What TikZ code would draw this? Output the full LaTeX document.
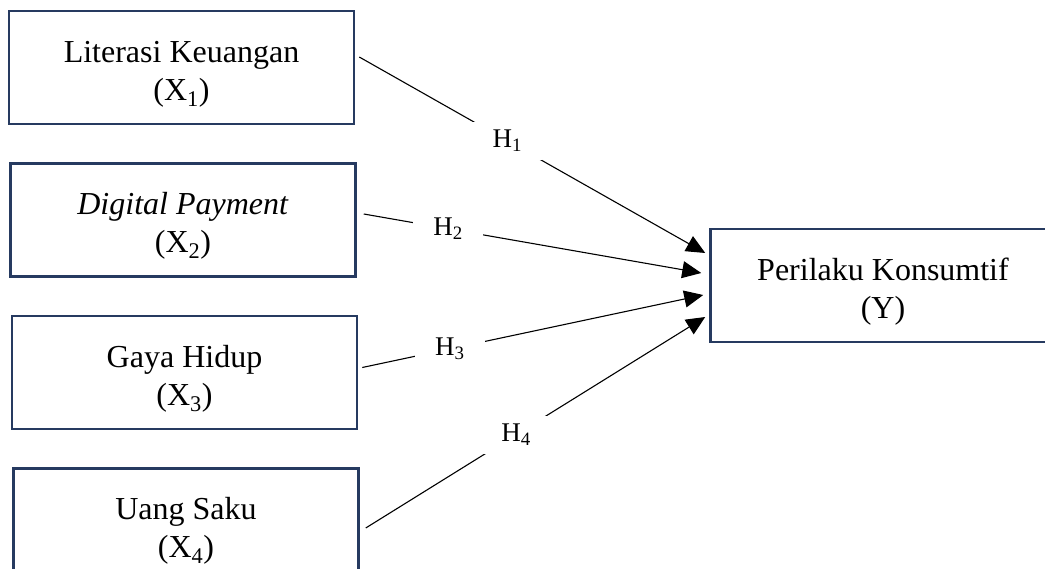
\documentclass[tikz,border=0pt]{standalone}
\usepackage{fontspec}
\setmainfont{Liberation Serif}
\usetikzlibrary{arrows.meta,positioning}
\definecolor{boxblue}{RGB}{38,58,96}
\newcommand{\boxstrut}{\rule{0pt}{34pt}}

\begin{document}
\begin{tikzpicture}[x=1pt,y=-1pt,node distance=37pt,>={Triangle[length=19pt,width=17pt]}]
  \tikzstyle{var}=[draw=boxblue,line width=2.5pt,minimum width=345pt,minimum height=113pt,inner sep=0pt,align=center,font=\fontsize{32}{38}\selectfont]
  \tikzstyle{hyp}=[fill=white,minimum width=70pt,minimum height=38pt,inner sep=0pt,font=\fontsize{27}{30}\selectfont]
  \useasboundingbox (0,0) rectangle (1045,569);
  \clip (0,0) rectangle (1045,569);

  \node[var] (lk) at (181.5,67.5) {\boxstrut Literasi Keuangan\\(X\textsubscript{1})};
  \node[var] (dp) [below=of lk,xshift=1.5pt] {\boxstrut\textit{Digital Payment}\\(X\textsubscript{2})};
  \node[var] (gh) [below=of dp,xshift=1.5pt] {\boxstrut Gaya Hidup\\(X\textsubscript{3})};
  \node[var] (us) [below=of gh,xshift=1.5pt] {\boxstrut Uang Saku\\(X\textsubscript{4})};

  \node[var] (pk) at (883,285.5) {\boxstrut Perilaku Konsumtif\\(Y)};

  \path[->,line width=1.1pt]
  ([shift={(4,-10.5)}]lk.east) edge node[hyp,pos=.428] {H\textsubscript{1}} ([shift={(-4,-32.5)}]pk.west)
  ([shift={(7,-6)}]dp.east) edge node[hyp,pos=.25] {H\textsubscript{2}} ([shift={(-8,-12.5)}]pk.west)
  ([shift={(4,-5)}]gh.east) edge node[hyp,pos=.257] {H\textsubscript{3}} ([shift={(-6,9.5)}]pk.west)
  ([shift={(6,3)}]us.east) edge node[hyp,pos=.443] {H\textsubscript{4}} ([shift={(-4,31.5)}]pk.west);
\end{tikzpicture}
\end{document}
